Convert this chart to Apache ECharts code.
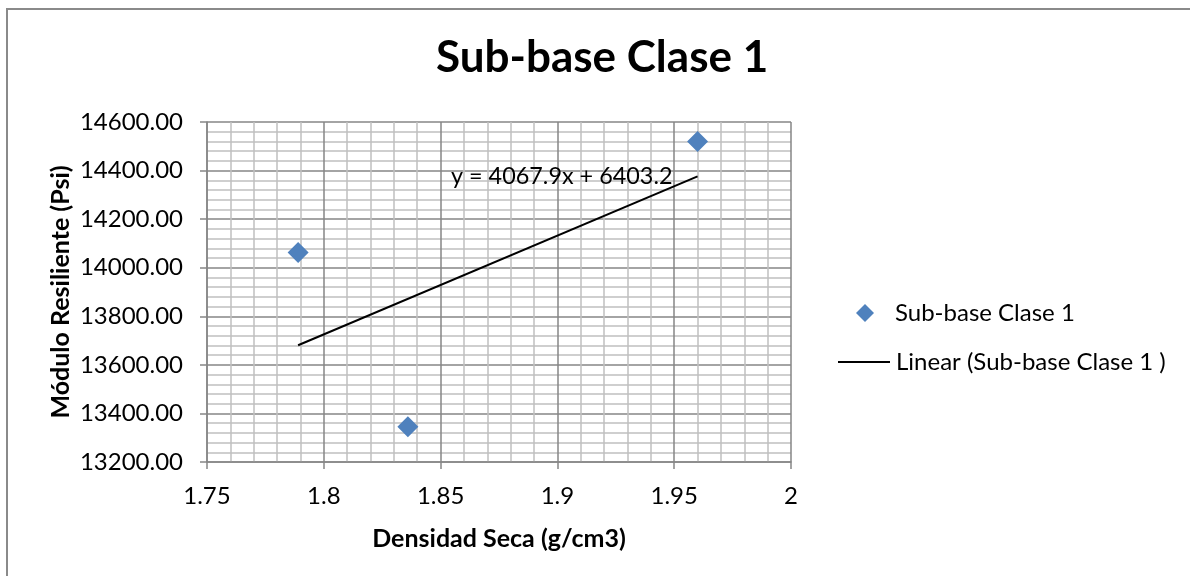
<!DOCTYPE html>
<html><head><meta charset="utf-8">
<script src="https://cdn.jsdelivr.net/npm/echarts@6/dist/echarts.min.js"></script>
<style>html,body{margin:0;padding:0;background:#fff}#c{width:1190px;height:576px}</style>
</head><body><div id="c"></div>
<script>
var titleText = 'Sub-base Clase 1';
var seriesName = 'Sub-base Clase 1';
var trendName = 'Linear (Sub-base Clase 1 )';
var xTitle = 'Densidad Seca (g/cm3)';
var yTitle = 'Módulo Resiliente (Psi)';
var equation = 'y = 4067.9x + 6403.2';
var densidad = [1.789, 1.836, 1.960];
var modulo = [14063, 13345, 14520];
var trendX = [1.789, 1.960];
var trendY = [13680.7, 14376.2];

var font = 'Lato, Carlito, Calibri, sans-serif';
var chart = echarts.init(document.getElementById('c'), null, {renderer:'canvas'});
chart.setOption({
  backgroundColor:'#fff',
  animation:false,
  title:{text:titleText,left:436,top:36,padding:0,textStyle:{fontFamily:font,fontSize:44,fontWeight:'bold',color:'#000'}},
  graphic:[
    {type:'rect',shape:{x:7,y:9,width:1200,height:600},style:{fill:'none',stroke:'#8a8a8a',lineWidth:2},silent:true,z:-1},
    {type:'text',left:451,top:165,style:{text:equation,font:'23.4px '+font,fill:'#000'},z:10}
  ],
  grid:{left:207,top:122,right:399,bottom:114,containLabel:false},
  legend:[
    {data:[{name:seriesName,icon:'diamond'}],orient:'vertical',left:856,top:301,padding:0,itemWidth:18,itemHeight:18,itemGap:10,
     textStyle:{fontFamily:font,fontSize:24,color:'#000',padding:[0,0,0,16]}},
    {data:[{name:trendName,icon:'rect',itemStyle:{color:'#000'}}],orient:'vertical',left:838,top:350,padding:0,itemWidth:52,itemHeight:2,
     textStyle:{fontFamily:font,fontSize:24,color:'#000',padding:[0,0,0,1]}}
  ],
  xAxis:{type:'value',min:1.75,max:2,interval:0.05,
    name:xTitle,nameLocation:'middle',nameGap:64,nameTextStyle:{fontFamily:font,fontSize:25,fontWeight:'bold',color:'#000'},
    axisLine:{show:true,onZero:false,lineStyle:{color:'#868686',width:1.5}},
    axisTick:{show:true,inside:false,length:7,lineStyle:{color:'#868686',width:1.5}},
    axisLabel:{fontFamily:font,fontSize:24,color:'#000',margin:22},
    splitLine:{show:true,lineStyle:{color:'#868686',width:1.5}},
    minorTick:{show:false,splitNumber:5},
    minorSplitLine:{show:true,lineStyle:{color:'#c0c0c0',width:1.5}}
  },
  yAxis:{type:'value',min:13200,max:14600,interval:200,
    name:yTitle,nameLocation:'middle',nameGap:134,nameRotate:90,nameTextStyle:{fontFamily:font,fontSize:25,fontWeight:'bold',color:'#000'},
    axisLine:{show:true,onZero:false,lineStyle:{color:'#868686',width:1.5}},
    axisTick:{show:true,inside:false,length:7,lineStyle:{color:'#868686',width:1.5}},
    axisLabel:{fontFamily:font,fontSize:24,color:'#000',margin:24,formatter:function(v){return v.toFixed(2);}},
    splitLine:{show:true,lineStyle:{color:'#868686',width:1.5}},
    minorTick:{show:false,splitNumber:5},
    minorSplitLine:{show:true,lineStyle:{color:'#c0c0c0',width:1.5}}
  },
  series:[
    {name:seriesName,type:'scatter',symbol:'diamond',symbolSize:21,itemStyle:{color:'#4f81bd',opacity:1},
     data:densidad.map(function(x,i){return [x,modulo[i]];}),z:5},
    {name:trendName,type:'line',symbol:'none',showSymbol:false,lineStyle:{color:'#000',width:2},itemStyle:{color:'#000'},
     data:trendX.map(function(x,i){return [x,trendY[i]];}),z:4}
  ]
});
</script></body></html>
